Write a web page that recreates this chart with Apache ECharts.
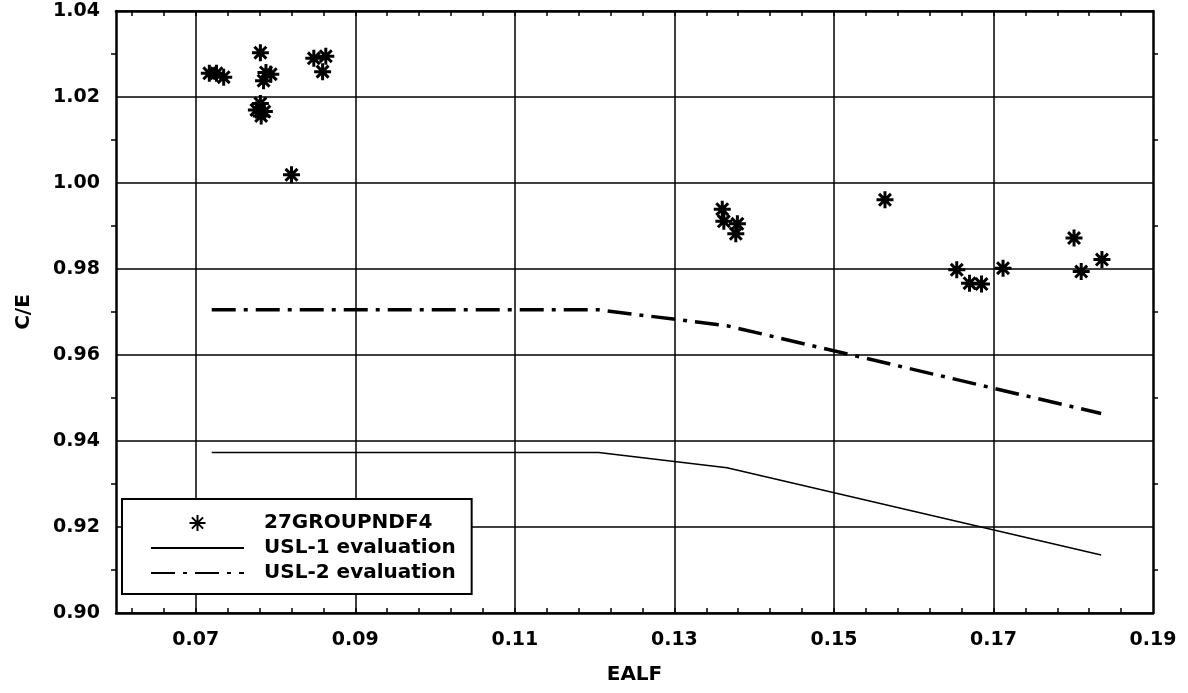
<!DOCTYPE html>
<html>
<head>
<meta charset="utf-8">
<title>C/E vs EALF</title>
<script src="https://cdn.jsdelivr.net/npm/echarts@6/dist/echarts.min.js"></script>
<style type="text/css">
html,body{margin:0;padding:0;background:#fff;}
#chart{width:1188px;height:693px;}
</style>
</head>
<body>
<div id="chart"></div>
<script>
// measured points (27GROUPNDF4)
var ptEalf = [0.0717,0.0726,0.0735,0.0781,0.0788,0.0794,0.0785,0.0781,0.0776,0.0786,0.0782,0.0820,0.0848,0.0863,0.0859,
              0.1360,0.1362,0.1379,0.1377,0.1564,0.1654,0.1670,0.1685,0.1712,0.1801,0.1810,0.1836];
var ptCE   = [1.0255,1.0255,1.0246,1.0303,1.0257,1.0253,1.0238,1.0185,1.0170,1.0166,1.0156,1.0019,1.0290,1.0295,1.0259,
              0.9939,0.9911,0.9905,0.9882,0.9961,0.9798,0.9767,0.9765,0.9802,0.9872,0.9794,0.9822];
// limit curves
var usl1X = [0.0720,0.1205,0.1366,0.1835];
var usl1Y = [0.9373,0.9373,0.9338,0.9135];
var usl2X = [0.0720,0.1205,0.1366,0.1835];
var usl2Y = [0.9705,0.9705,0.9668,0.9464];
// axis ticks
var xLabels = [0.07,0.09,0.11,0.13,0.15,0.17,0.19];
var xMinor = [0.062,0.066,0.07,0.074,0.078,0.082,0.086,0.09,0.094,0.098,0.102,0.106,0.11,0.114,0.118,0.122,
              0.126,0.13,0.134,0.138,0.142,0.146,0.15,0.154,0.158,0.162,0.166,0.17,0.174,0.178,0.182,0.186];

var FONT = 'DejaVu Sans';
var star = 'path://M0,10 L20,10 M10,0 L10,20 M3,3 L17,17 M17,3 L3,17';
var noMark = {color: 'transparent', borderColor: 'transparent', borderWidth: 0};

function pairs(xs, ys){
  var out = [];
  for(var i=0;i<xs.length;i++){ out.push([xs[i], ys[i]]); }
  return out;
}

var chart = echarts.init(document.getElementById('chart'));
var option = {
  animation: false,
  backgroundColor: '#fff',
  textStyle: {fontFamily: FONT, color: '#000'},
  grid: {left: 116, right: 35, top: 11, bottom: 80},
  legend: {
    orient: 'vertical',
    left: 122, top: 499,
    padding: [13, 16, 10, 28],
    backgroundColor: '#fff',
    borderColor: '#000',
    borderWidth: 2,
    itemWidth: 93,
    itemHeight: 16,
    itemGap: 3,
    textStyle: {fontFamily: FONT, fontSize: 20, fontWeight: 'bold', color: '#000', lineHeight: 22, padding: [0,0,0,15]},
    data: [
      {name: '27GROUPNDF4'},
      {name: 'USL-1 evaluation', itemStyle: noMark},
      {name: 'USL-2 evaluation', itemStyle: noMark}
    ]
  },
  xAxis: [
    {
      type: 'value', position: 'bottom', min: 0.06, max: 0.19,
      name: 'EALF', nameLocation: 'middle', nameGap: 52,
      nameTextStyle: {fontFamily: FONT, fontSize: 20, fontWeight: 'bold', color: '#000'},
      axisLine: {lineStyle: {color: '#000', width: 2.5}},
      axisTick: {inside: true, length: 5, customValues: xMinor, lineStyle: {color: '#000', width: 1.5}},
      axisLabel: {customValues: xLabels, fontFamily: FONT, fontSize: 19, fontWeight: 'bold', color: '#000', margin: 18,
                  formatter: function(v){ return v.toFixed(2); }},
      splitLine: {show: true, lineStyle: {color: ['transparent','transparent','#000','transparent','transparent'], width: 1.5}}
    },
    {
      type: 'value', position: 'top', min: 0.06, max: 0.19,
      axisLine: {lineStyle: {color: '#000', width: 2.5}},
      axisTick: {inside: true, length: 5, customValues: xMinor, lineStyle: {color: '#000', width: 1.5}},
      axisLabel: {show: false},
      splitLine: {show: false}
    }
  ],
  yAxis: [
    {
      type: 'value', position: 'left', min: 0.90, max: 1.04, interval: 0.02,
      name: 'C/E', nameLocation: 'middle', nameGap: 82,
      nameTextStyle: {fontFamily: FONT, fontSize: 20, fontWeight: 'bold', color: '#000'},
      axisLine: {lineStyle: {color: '#000', width: 2.5}},
      axisTick: {show: false},
      minorTick: {show: true, splitNumber: 2, length: 5, lineStyle: {color: '#000', width: 1.5}},
      axisLabel: {fontFamily: FONT, fontSize: 19, fontWeight: 'bold', color: '#000', margin: 16,
                  formatter: function(v){ return v.toFixed(2); }},
      splitLine: {show: true, lineStyle: {color: '#000', width: 1.5}}
    },
    {
      type: 'value', position: 'right', min: 0.90, max: 1.04, interval: 0.02,
      axisLine: {lineStyle: {color: '#000', width: 2.5}},
      axisTick: {show: false},
      minorTick: {show: true, splitNumber: 2, length: 5, lineStyle: {color: '#000', width: 1.5}},
      axisLabel: {show: false},
      splitLine: {show: false}
    }
  ],
  series: [
    {
      name: 'USL-1 evaluation', type: 'line', xAxisIndex: 0, yAxisIndex: 0,
      showSymbol: false, symbol: 'none',
      lineStyle: {color: '#000', width: 1.5},
      itemStyle: {color: '#000'},
      data: pairs(usl1X, usl1Y), z: 3
    },
    {
      name: 'USL-2 evaluation', type: 'line', xAxisIndex: 0, yAxisIndex: 0,
      showSymbol: false, symbol: 'none',
      lineStyle: {color: '#000', width: 3.5, type: [24, 8, 4, 8]},
      itemStyle: {color: '#000'},
      data: pairs(usl2X, usl2Y), z: 3
    },
    {
      name: '27GROUPNDF4', type: 'scatter', xAxisIndex: 0, yAxisIndex: 0,
      symbol: star, symbolSize: 17,
      itemStyle: {color: '#000', borderColor: '#000', borderWidth: 3, opacity: 1},
      data: pairs(ptEalf, ptCE), z: 4
    }
  ]
};
chart.setOption(option);
</script>
</body>
</html>
